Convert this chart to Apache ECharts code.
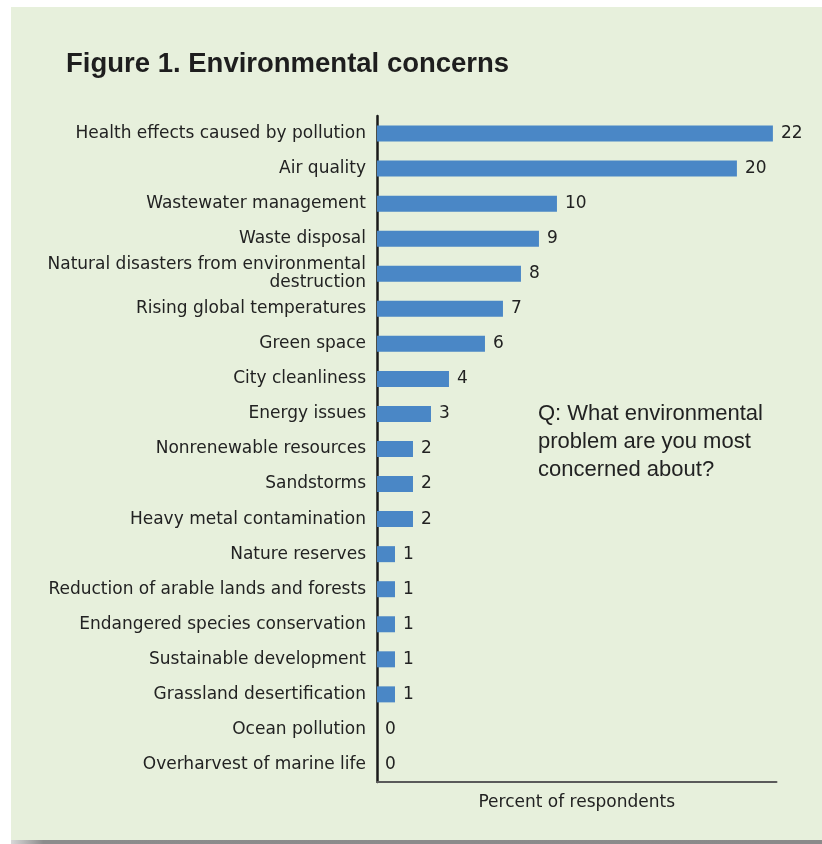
<!DOCTYPE html>
<html>
<head>
<meta charset="utf-8">
<style>
  html, body { margin: 0; padding: 0; background: #ffffff; }
  #chart { width: 822px; height: 844px; }
</style>
<script src="https://cdn.jsdelivr.net/npm/echarts@6/dist/echarts.min.js"></script>
</head>
<body>
<div id="chart"></div>
<script>
// Survey answers, in display order (top to bottom)
const categories = [
  'Health effects caused by pollution',
  'Air quality',
  'Wastewater management',
  'Waste disposal',
  'Natural disasters from environmental\ndestruction',
  'Rising global temperatures',
  'Green space',
  'City cleanliness',
  'Energy issues',
  'Nonrenewable resources',
  'Sandstorms',
  'Heavy metal contamination',
  'Nature reserves',
  'Reduction of arable lands and forests',
  'Endangered species conservation',
  'Sustainable development',
  'Grassland desertification',
  'Ocean pollution',
  'Overharvest of marine life'
];

// Percent of respondents
const percentValues = [22, 20, 10, 9, 8, 7, 6, 4, 3, 2, 2, 2, 1, 1, 1, 1, 1, 0, 0];

const titleText = 'Figure 1. Environmental concerns';
const questionText = 'Q: What environmental\nproblem are you most\nconcerned about?';
const axisName = 'Percent of respondents';

const labelFont = '"DejaVu Sans", "Liberation Sans", Arial, sans-serif';
const headFont = '"Liberation Sans", Arial, Helvetica, sans-serif';
const ink = '#222222';

const chart = echarts.init(document.getElementById('chart'), null, { renderer: 'canvas' });

chart.setOption({
  backgroundColor: '#ffffff',
  animation: false,
  graphic: [
    // drop shadow under the panel
    {
      type: 'rect', z: -20, silent: true,
      shape: { x: 11, y: 838, width: 811, height: 6 },
      style: {
        fill: new echarts.graphic.LinearGradient(0, 0, 1, 0, [
          { offset: 0, color: '#d8d8d8' },
          { offset: 0.04, color: '#8c8c8c' },
          { offset: 1, color: '#8a8a8a' }
        ])
      }
    },
    // light green panel
    {
      type: 'rect', z: -10, silent: true,
      shape: { x: 11, y: 7, width: 811, height: 833 },
      style: { fill: '#e7f0dc' }
    },
    {
      type: 'text', left: 66, top: 50, z: 10,
      style: {
        text: titleText,
        font: 'bold 27.5px ' + headFont,
        fill: '#1e1e1e'
      }
    },
    {
      type: 'text', left: 538, top: 400, z: 10,
      style: {
        text: questionText,
        font: '22px ' + headFont,
        lineHeight: 28,
        fill: ink
      }
    }
  ],
  grid: {
    left: 377,
    right: 45.5,
    top: 116,
    bottom: 62,
    containLabel: false
  },
  xAxis: {
    type: 'value',
    min: 0,
    max: 22.2,
    axisLine: { show: true, onZero: false, lineStyle: { color: '#5a5a5a', width: 2 } },
    axisTick: { show: false },
    axisLabel: { show: false },
    splitLine: { show: false },
    name: axisName,
    nameLocation: 'middle',
    nameGap: 12,
    nameTextStyle: { fontFamily: labelFont, fontSize: 17, color: ink }
  },
  yAxis: {
    type: 'category',
    data: categories,
    inverse: true,
    axisLine: { show: true, lineStyle: { color: '#1a1a1a', width: 2.5 } },
    axisTick: { show: false },
    splitLine: { show: false },
    axisLabel: {
      margin: 11,
      fontFamily: labelFont,
      fontSize: 17,
      lineHeight: 18,
      color: ink,
      align: 'right'
    }
  },
  series: [
    {
      type: 'bar',
      data: percentValues,
      barWidth: 16,
      itemStyle: { color: '#4a87c6' },
      label: {
        show: true,
        position: 'right',
        distance: 8,
        fontFamily: labelFont,
        fontSize: 17,
        color: ink
      }
    }
  ]
});
</script>
</body>
</html>
